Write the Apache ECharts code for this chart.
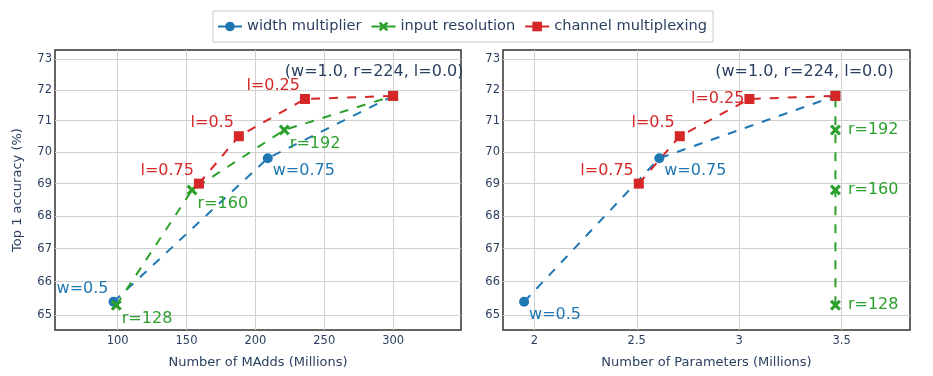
<!DOCTYPE html>
<html>
<head>
<meta charset="utf-8">
<script src="https://cdn.jsdelivr.net/npm/echarts@6/dist/echarts.min.js"></script>
<style>
  html, body { margin: 0; padding: 0; background: #fff; }
  #chart { width: 933px; height: 376px; }
</style>
</head>
<body>
<div id="chart"></div>
<script>
// top-1 accuracy against cost, for three ways of shrinking the net
const widthMadds = [97, 209, 300];
const widthParams = [1.95, 2.61, 3.47];
const widthAcc = [65.4, 69.8, 71.8];
const widthText = ["w=0.5", "w=0.75", ""];

const resMadds = [99, 154, 221, 300];
const resParams = [3.47, 3.47, 3.47, 3.47];
const resAcc = [65.3, 68.8, 70.7, 71.8];
const resText = ["r=128", "r=160", "r=192", ""];

const muxMadds = [159, 188, 236, 300];
const muxParams = [2.51, 2.71, 3.05, 3.47];
const muxAcc = [69.0, 70.5, 71.7, 71.8];
const muxText = ["l=0.75", "l=0.5", "l=0.25", "(w=1.0, r=224, l=0.0)"];

const accTicks = [65, 66, 67, 68, 69, 70, 71, 72, 73];
const maddsTicks = [100, 150, 200, 250, 300];
const paramsTicks = [2, 2.5, 3, 3.5];

const FONT = "DejaVu Sans";
const INK = "#2a3f5f";
const BLUE = "#1f77b4", GREEN = "#2ca02c", RED = "#d62728";
const X_MARK = "path://M2,0 L5,3 L8,0 L10,2 L7,5 L10,8 L8,10 L5,7 L2,10 L0,8 L3,5 L0,2 Z";

// where each point label sits
function place(kind, color) {
  const lab = { show: true, color: color, fontFamily: FONT, fontSize: 16 };
  if (kind === "tl") {
    lab.position = [0, 0]; lab.align = "right"; lab.verticalAlign = "bottom";
  } else if (kind === "br") {
    lab.position = ["100%", "100%"]; lab.align = "left"; lab.verticalAlign = "top";
  } else if (kind === "r") {
    lab.position = "right"; lab.distance = 7;
  } else if (kind === "l") {
    lab.position = "left"; lab.distance = 0;
  } else if (kind === "noteL" || kind === "noteR") {
    lab.position = "top"; lab.distance = 11;
    lab.offset = [kind === "noteL" ? -19 : -31, 0];
    lab.color = INK;
  }
  return lab;
}

function points(xs, ys, texts, kinds, color) {
  return xs.map(function (x, i) {
    const item = { value: [x, ys[i]] };
    if (texts[i]) {
      item.label = place(kinds[i], color);
      item.label.formatter = texts[i];
    } else {
      item.label = { show: false };
    }
    return item;
  });
}

function line(name, gi, data, color, symbol, size) {
  return {
    name: name,
    type: "line",
    xAxisIndex: gi,
    yAxisIndex: gi,
    data: data,
    symbol: symbol,
    symbolSize: size,
    showAllSymbol: true,
    lineStyle: { color: color, width: 2, type: [9, 9] },
    itemStyle: { color: color },
    emphasis: { disabled: true },
    animation: false
  };
}

function xAxisOf(gi, min, max, ticks, name) {
  return {
    gridIndex: gi, type: "value", min: min, max: max,
    name: name, nameLocation: "middle", nameGap: 26,
    nameTextStyle: { color: INK, fontFamily: FONT, fontSize: 13 },
    axisLine: { show: false },
    axisTick: { show: false, customValues: ticks },
    axisLabel: { customValues: ticks, margin: 5, color: INK, fontFamily: FONT, fontSize: 11.5 },
    splitLine: { show: true, lineStyle: { color: "#d0d0d0", width: 1 } }
  };
}

function yAxisOf(gi, name) {
  return {
    gridIndex: gi, type: "log", logBase: 10, min: 64.57, max: 73.31,
    name: name, nameLocation: "middle", nameGap: 31, nameRotate: 90,
    nameTextStyle: { color: INK, fontFamily: FONT, fontSize: 13 },
    axisLine: { show: false },
    axisTick: { show: false, customValues: accTicks },
    minorTick: { show: false },
    minorSplitLine: { show: false },
    axisLabel: { customValues: accTicks, margin: 3, color: INK, fontFamily: FONT, fontSize: 11.5 },
    splitLine: { show: true, lineStyle: { color: "#d0d0d0", width: 1 } }
  };
}

const chart = echarts.init(document.getElementById("chart"));
chart.setOption({
  backgroundColor: "#fff",
  animation: false,
  legend: {
    top: 11, left: 213,
    data: ["width multiplier", "input resolution", "channel multiplexing"],
    itemWidth: 24, itemHeight: 12, itemGap: 9,
    padding: [8, 6, 8, 4],
    borderColor: "#c8c8c8", borderWidth: 1,
    textStyle: { color: INK, fontFamily: FONT, fontSize: 14.6 },
    lineStyle: { type: "solid", width: 2 }
  },
  grid: [
    { left: 55, top: 50, width: 406, height: 280, show: true, borderColor: "#333", borderWidth: 1.5, backgroundColor: "#fff" },
    { left: 503, top: 50, width: 407, height: 280, show: true, borderColor: "#333", borderWidth: 1.5, backgroundColor: "#fff" }
  ],
  xAxis: [
    xAxisOf(0, 54.5, 349.3, maddsTicks, "Number of MAdds (Millions)"),
    xAxisOf(1, 1.847, 3.834, paramsTicks, "Number of Parameters (Millions)")
  ],
  yAxis: [yAxisOf(0, "Top 1 accuracy (%)"), yAxisOf(1, "")],
  series: [
    line("width multiplier", 0, points(widthMadds, widthAcc, widthText, ["tl", "br", ""], BLUE), BLUE, "circle", 10),
    line("input resolution", 0, points(resMadds, resAcc, resText, ["br", "br", "br", ""], GREEN), GREEN, X_MARK, 11),
    line("channel multiplexing", 0, points(muxMadds, muxAcc, muxText, ["tl", "tl", "tl", "noteL"], RED), RED, "rect", 10),
    line("width multiplier", 1, points(widthParams, widthAcc, widthText, ["br", "br", ""], BLUE), BLUE, "circle", 10),
    line("input resolution", 1, points(resParams, resAcc, resText, ["r", "r", "r", ""], GREEN), GREEN, X_MARK, 11),
    line("channel multiplexing", 1, points(muxParams, muxAcc, muxText, ["tl", "tl", "l", "noteR"], RED), RED, "rect", 10)
  ]
});
</script>
</body>
</html>
